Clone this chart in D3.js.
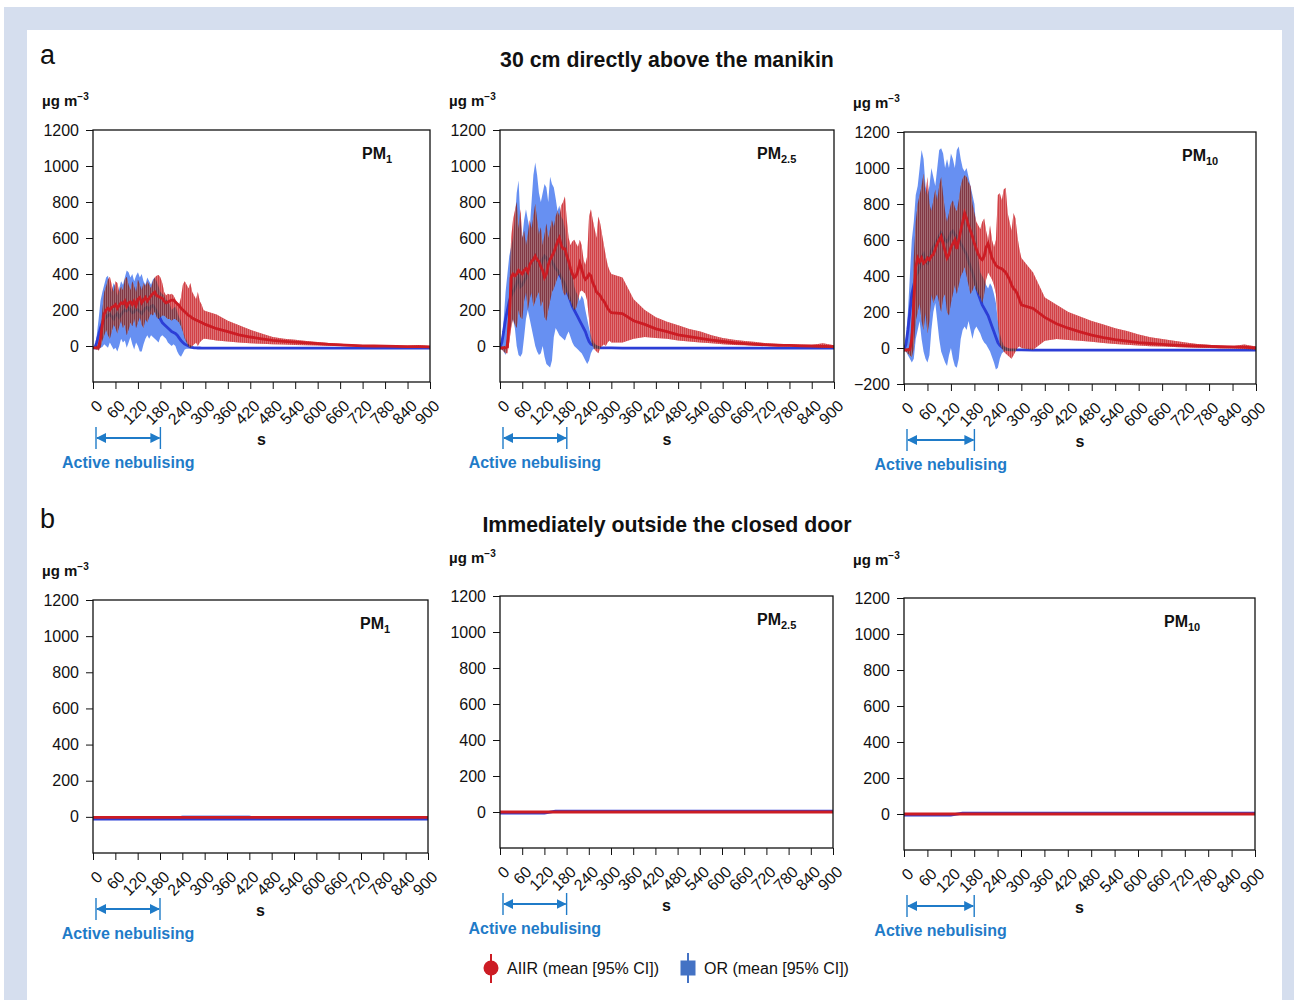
<!DOCTYPE html>
<html>
<head>
<meta charset="utf-8">
<script src="https://cdn.jsdelivr.net/npm/d3@7"></script>
<style>
  body { margin: 0; background: #fff; }
  svg text { font-family: "Liberation Sans", Arial, sans-serif; }
</style>
</head>
<body>
<svg id="chart" width="1298" height="1000"></svg>
<script>
// ---- data (µg m-3) ----
const X_TICKS = [0, 60, 120, 180, 240, 300, 360, 420, 480, 540, 600, 660, 720, 780, 840, 900];
const Y_TICKS = [0, 200, 400, 600, 800, 1000, 1200];
const Y_TICKS_NEG = [-200, 0, 200, 400, 600, 800, 1000, 1200];

// time points (s) for the panels of part a
const TIME_TOP = [0,5,10,15,20,25,30,35,40,45, 50,55,60,65,70,75,80,85,90,95,
  100,105,110,115,120,125,130,135,140,145, 150,155,160,165,170,175,180,185,190,195,
  200,205,210,215,220,225,230,235,240,245, 250,255,260,265,270,275,280,285,290,295, 300,
  330,360,390,420,450,480,510,540,570,600,630,660,690,720,750,780,810,840,870,900];

// PM1, 30 cm above the manikin
const PM1_AIIR_MEAN = [-10,-10,-10,-5,40,120,180,200,210,200, 215,220,230,210,225,240,235,250,220,240,
  245,230,250,225,260,270,240,255,270,250, 265,280,290,300,280,275,270,265,250,240,
  245,250,255,255,245,235,225,210,200,190, 180,170,165,155,150,145,140,135,130,125, 120,
  96,80,62,50,40,31,26,22,17,13,9,6,3,1,0,-1,-2,-3,-4,-5];
const PM1_AIIR_HI = [-5,-5,0,10,80,200,300,330,370,385, 340,300,360,350,300,330,310,370,385,340,
  310,360,330,300,370,340,310,350,330,360, 340,320,360,380,390,395,380,350,300,280,
  290,285,290,280,260,240,230,270,340,360, 340,320,350,300,280,260,300,250,230,200, 195,
  175,140,115,90,70,50,40,35,28,22,16,12,8,6,4,3,2,1,5,0];
const PM1_AIIR_LO = [-15,-15,-20,-25,-10,30,60,90,60,40, 80,120,100,70,110,140,100,120,60,90,
  130,110,150,100,130,160,120,100,150,130, 160,180,170,190,160,150,160,170,170,160,
  150,150,140,150,150,140,130,110,80,40, 20,0,-10,0,10,20,0,20,30,40, 40,
  30,25,20,15,12,10,8,6,4,3,2,0,-2,-3,-4,-5,-6,-7,-8,-10];
const PM1_OR_MEAN = [-10,-8,20,60,100,130,150,160,170,175, 165,150,170,180,160,175,190,200,195,210,
  200,185,190,205,200,190,180,195,210,215, 200,220,225,210,190,170,150,130,120,110,
  100,90,80,75,70,60,45,30,20,10, 5,0,-5,-8,-10,-10,-11,-11,-12,-12, -12,
  -12,-12,-12,-12,-12,-12,-12,-12,-12,-12,-12,-12,-12,-12,-12,-12,-12,-12,-12,-12];
const PM1_OR_HI = [-5,0,60,150,250,300,340,380,390,330, 300,350,330,280,320,360,340,380,420,410,
  380,400,360,390,410,380,400,360,340,380, 360,340,370,380,360,330,300,290,280,260,
  250,230,200,210,220,190,160,140,90,50, 30,10,0,-5,-7,-7,-8,-8,-8,-8, -8,
  -8,-8,-8,-8,-8,-8,-8,-8,-8,-8,-8,-8,-8,-8,-8,-8,-8,-8,-8,-8];
const PM1_OR_LO = [-15,-20,-20,-20,-10,-5,10,0,-10,20, 0,-20,-10,-30,0,40,20,30,-10,20,
  50,10,-20,20,0,-30,-30,10,40,60, 40,60,50,40,30,20,50,60,50,40,
  20,10,0,10,0,-30,-50,-60,-40,-20, -15,-15,-15,-15,-15,-15,-15,-16,-16,-16, -16,
  -16,-16,-16,-16,-16,-16,-16,-16,-16,-16,-16,-16,-16,-16,-16,-16,-16,-16,-16,-16];

// PM2.5, 30 cm above the manikin
const PM25_AIIR_MEAN = [-10,-10,-10,-10,-5,150,380,400,390,400, 420,410,400,420,430,410,450,470,480,500,
  480,470,440,420,380,400,450,480,500,520, 550,580,600,560,540,540,500,470,430,400,
  380,390,420,460,430,390,370,380,400,390, 350,330,300,290,280,260,250,230,210,195, 185,
  180,140,120,95,80,62,52,42,33,25,18,13,9,6,4,3,1,0,-2,-4];
const PM25_AIIR_HI = [-5,-5,0,0,50,300,600,700,750,800, 650,760,600,640,560,620,700,650,720,790,
  700,620,660,560,620,680,600,650,700,660, 720,750,720,780,800,830,700,600,560,580,
  590,570,550,590,560,480,450,500,720,760, 700,650,600,720,680,620,560,500,450,420, 400,
  380,260,200,160,135,115,95,80,60,45,35,28,22,15,12,10,8,6,15,4];
const PM25_AIIR_LO = [-20,-20,-30,-40,-40,20,100,150,120,100, 200,160,150,250,300,200,260,300,220,250,
  280,300,220,250,160,140,200,250,300,320, 350,380,400,360,300,280,300,260,250,220,
  200,210,250,300,310,300,290,250,150,30, 0,-20,-30,-40,-10,0,10,0,20,30, 20,
  20,40,50,45,40,30,25,20,15,10,6,4,2,0,-2,-3,-4,-5,-8,-10];
const PM25_OR_MEAN = [-10,20,80,150,200,250,280,300,320,350, 380,330,340,360,380,420,450,470,480,500,
  480,460,450,480,500,490,470,480,470,450, 430,420,400,380,360,340,300,280,250,220,
  200,180,160,140,120,100,80,50,25,10, 5,0,-5,-8,-10,-10,-10,-10,-10,-10, -10,
  -12,-12,-12,-12,-12,-12,-12,-12,-12,-12,-12,-12,-12,-12,-12,-12,-12,-12,-12,-12];
const PM25_OR_HI = [-5,50,150,300,400,500,550,600,700,850, 920,700,600,700,760,700,650,800,950,1020,
  950,850,800,850,900,880,800,940,900,880, 820,750,780,720,700,650,560,500,450,400,
  330,300,280,250,280,260,200,150,100,60, 30,15,5,0,-5,-6,-7,-8,-8,-8, -8,
  -8,-8,-8,-8,-8,-8,-8,-8,-8,-8,-8,-8,-8,-8,-8,-8,-8,-8,-8,-8];
const PM25_OR_LO = [-15,-20,-30,-50,0,80,120,150,100,0, -50,-60,-40,50,150,200,150,100,50,0,
  -30,-50,-40,0,-60,-100,-110,-120,-80,50, 100,80,60,50,40,30,60,80,50,20,
  0,-10,-20,-30,-40,-60,-80,-100,-80,-40, -20,-15,-15,-15,-15,-15,-15,-15,-15,-15, -15,
  -16,-16,-16,-16,-16,-16,-16,-16,-16,-16,-16,-16,-16,-16,-16,-16,-16,-16,-16,-16];

// PM10, 30 cm above the manikin
const PM10_AIIR_MEAN = [-10,-10,-10,-10,50,250,450,500,480,500, 470,480,500,490,510,520,550,580,600,620,
  580,540,500,520,560,580,600,550,600,650, 700,750,720,680,650,620,580,550,520,500,
  490,510,560,580,540,500,480,460,450,445, 440,430,420,400,380,350,330,320,300,270, 240,
  220,170,135,110,90,72,58,46,38,30,25,20,16,13,11,9,7,6,5,0];
const PM10_AIIR_HI = [-5,-5,0,0,150,500,700,800,850,900, 970,850,950,800,760,820,880,820,900,950,
  850,760,700,750,800,820,780,760,820,900, 940,960,950,920,900,800,750,700,680,660,
  700,720,650,600,680,600,560,600,850,860, 820,880,890,750,700,650,750,720,620,550, 500,
  420,280,240,200,175,150,130,110,95,75,60,50,40,30,22,18,12,10,20,8];
const PM10_AIIR_LO = [-20,-20,-30,-40,-50,0,150,200,250,150, 100,200,80,150,300,250,280,300,250,200,
  280,300,200,180,250,300,350,300,350,400, 420,450,400,350,300,320,350,320,300,280,
  250,300,380,420,400,380,350,300,150,20, 0,-20,-30,-40,-50,-60,-40,-20,0,10, 0,
  -10,40,50,45,40,35,28,22,18,14,10,8,5,3,1,0,-2,-3,-5,-8];
const PM10_OR_MEAN = [-10,20,100,200,300,350,400,420,450,500, 520,480,470,500,540,560,580,600,620,640,
  620,600,590,610,640,650,630,620,600,580, 560,540,520,480,450,420,380,340,300,270,
  240,220,200,180,150,120,90,60,30,15, 5,0,-5,-8,-10,-10,-10,-10,-10,-10, -10,
  -12,-12,-12,-12,-12,-12,-12,-12,-12,-12,-12,-12,-12,-12,-12,-12,-12,-12,-12,-12];
const PM10_OR_HI = [-5,60,200,400,600,700,850,900,1000,1100, 1050,900,850,900,1000,950,900,1000,1100,1110,
  1080,1000,1050,1000,1080,1050,1000,1100,1120,1050, 1000,980,1000,950,900,850,800,650,500,420,
  400,380,350,330,360,340,300,250,150,80, 40,15,5,0,-5,-6,-7,-8,-8,-8, -8,
  -8,-8,-8,-8,-8,-8,-8,-8,-8,-8,-8,-8,-8,-8,-8,-8,-8,-8,-8,-8];
const PM10_OR_LO = [-15,-20,-40,-60,-80,-60,50,100,150,50, -20,-60,-80,-40,100,200,250,150,50,-20,
  -50,-80,-100,-40,0,-60,-100,-110,-60,50, 100,120,100,150,100,50,100,120,100,80,
  50,30,20,0,-20,-50,-80,-120,-110,-60, -30,-20,-15,-15,-15,-15,-15,-15,-15,-15, -15,
  -16,-16,-16,-16,-16,-16,-16,-16,-16,-16,-16,-16,-16,-16,-16,-16,-16,-16,-16,-16];

// part b: outside the closed door (every 30 s)
const TIME_BOTTOM = [0,30,60,90,120,150,180,210,240,270,300,330,360,390,420,450,480,510,540,570,600,630,660,690,720,750,780,810,840,870,900];
const B_PM1_AIIR_MEAN = [-3,-3,-3,-3,-3,-3,-3,-3,-3,-3,-3,-3,-3,-3,-3,-3,-3,-3,-3,-3,-3,-3,-3,-3,-3,-3,-3,-3,-3,-3,-3];
const B_PM1_AIIR_LO   = [-6,-6,-6,-6,-6,-6,-6,-6,-6,-6,-6,-6,-6,-6,-6,-6,-6,-6,-6,-6,-6,-6,-6,-6,-6,-6,-6,-6,-6,-6,-6];
const B_PM1_AIIR_HI   = [0,0,0,0,0,0,0,0,0,0,0,0,0,0,0,0,0,0,0,0,0,0,0,0,0,0,0,0,0,0,0];
const B_PM1_OR_MEAN = [-12,-12,-12,-12,-12,-12,-12,-12,-12,-12,-12,-12,-12,-12,-12,-12,-12,-12,-12,-12,-12,-12,-12,-12,-12,-12,-12,-12,-12,-12,-12];
const B_PM1_OR_LO   = [-15,-15,-15,-15,-15,-15,-15,-15,-15,-15,-15,-15,-15,-15,-15,-15,-15,-15,-15,-15,-15,-15,-15,-15,-15,-15,-15,-15,-15,-15,-15];
const B_PM1_OR_HI   = [-9,-9,-9,-9,-9,-9,-9,-9,8,8,8,8,8,8,8,-9,-9,-9,-9,-9,-9,-9,-9,-9,-9,-9,-9,-9,-9,-9,-9];
const B_PM25_AIIR_MEAN = [0,0,0,0,0,0,0,0,0,0,0,0,0,0,0,0,0,0,0,0,0,0,0,0,0,0,0,0,0,0,0];
const B_PM25_AIIR_LO   = [-3,-3,-3,-3,-3,-3,-3,-3,-3,-3,-3,-3,-3,-3,-3,-3,-3,-3,-3,-3,-3,-3,-3,-3,-3,-3,-3,-3,-3,-3,-3];
const B_PM25_AIIR_HI   = [3,3,3,3,3,3,3,3,3,3,3,3,3,3,3,3,3,3,3,3,3,3,3,3,3,3,3,3,3,3,3];
const B_PM25_OR_MEAN = [-6,-6,-6,-6,-6,5,5,5,5,5,5,5,5,5,5,5,5,5,5,5,5,5,5,5,5,5,5,5,5,5,5];
const B_PM25_OR_LO   = [-9,-9,-9,-9,-9,2,2,2,2,2,2,2,2,2,2,2,2,2,2,2,2,2,2,2,2,2,2,2,2,2,2];
const B_PM25_OR_HI   = [-3,-3,-3,-3,-3,8,8,8,8,8,8,8,8,8,8,8,8,8,8,8,8,8,8,8,8,8,8,8,8,8,8];
const B_PM10_AIIR_MEAN = [0,0,0,0,0,0,0,0,0,0,0,0,0,0,0,0,0,0,0,0,0,0,0,0,0,0,0,0,0,0,0];
const B_PM10_AIIR_LO   = [-3,-3,-3,-3,-3,-3,-3,-3,-3,-3,-3,-3,-3,-3,-3,-3,-3,-3,-3,-3,-3,-3,-3,-3,-3,-3,-3,-3,-3,-3,-3];
const B_PM10_AIIR_HI   = [3,3,3,3,3,3,3,3,3,3,3,3,3,3,3,3,3,3,3,3,3,3,3,3,3,3,3,3,3,3,3];
const B_PM10_OR_MEAN = [-6,-6,-6,-6,-6,5,5,5,5,5,5,5,5,5,5,5,5,5,5,5,5,5,5,5,5,5,5,5,5,5,5];
const B_PM10_OR_LO   = [-9,-9,-9,-9,-9,2,2,2,2,2,2,2,2,2,2,2,2,2,2,2,2,2,2,2,2,2,2,2,2,2,2];
const B_PM10_OR_HI   = [-3,-3,-3,-3,-3,8,8,8,8,8,8,8,8,8,8,8,8,8,8,8,8,8,8,8,8,8,8,8,8,8,8];

// ---- drawing ----
const RED = "#cc1c24", RED_BAND = "#cc3034";
const BLUE = "#2c3ed6", BLUE_BAND = "#4c7cf0";
const NEB = "#1f7bc8";

const svg = d3.select("#chart");
svg.append("rect").attr("x", 4).attr("y", 7).attr("width", 1290).attr("height", 993).attr("fill", "#d5deee");
svg.append("rect").attr("x", 27).attr("y", 30).attr("width", 1255).attr("height", 970).attr("fill", "#fff");

const defs = svg.append("defs");
["start", "end"].forEach(k => {
  defs.append("marker")
    .attr("id", "arr-" + k)
    .attr("viewBox", "0 0 10 10")
    .attr("refX", 9).attr("refY", 5)
    .attr("markerWidth", 5).attr("markerHeight", 5)
    .attr("orient", k === "end" ? "auto" : "auto-start-reverse")
    .append("path").attr("d", "M0,0 L10,5 L0,10 z").attr("fill", NEB);
});
// thin light gaps between the individual error bars
const stripes = defs.append("pattern").attr("id", "stripes")
  .attr("patternUnits", "userSpaceOnUse").attr("width", 2).attr("height", 4);
stripes.append("rect").attr("x", 1.2).attr("y", 0).attr("width", 0.8).attr("height", 4)
  .attr("fill", "#fff").attr("fill-opacity", 0.32);

function series(time, mean, lo, hi) {
  return time.map((t, i) => ({ t, m: mean[i], lo: lo[i], hi: hi[i] }));
}

const panels = [
  { left: 93, right: 430, top: 130, bottom: 382, unitDy: 29, pmX: 362, sub: "1", yTicks: Y_TICKS,
    aiir: series(TIME_TOP, PM1_AIIR_MEAN, PM1_AIIR_LO, PM1_AIIR_HI), or: series(TIME_TOP, PM1_OR_MEAN, PM1_OR_LO, PM1_OR_HI) },
  { left: 500, right: 834, top: 130, bottom: 382, unitDy: 29, pmX: 757, sub: "2.5", yTicks: Y_TICKS,
    aiir: series(TIME_TOP, PM25_AIIR_MEAN, PM25_AIIR_LO, PM25_AIIR_HI), or: series(TIME_TOP, PM25_OR_MEAN, PM25_OR_LO, PM25_OR_HI) },
  { left: 904, right: 1256, top: 132, bottom: 384, unitDy: 29, pmX: 1182, sub: "10", yTicks: Y_TICKS_NEG,
    aiir: series(TIME_TOP, PM10_AIIR_MEAN, PM10_AIIR_LO, PM10_AIIR_HI), or: series(TIME_TOP, PM10_OR_MEAN, PM10_OR_LO, PM10_OR_HI) },
  { left: 93, right: 428, top: 600, bottom: 853, unitDy: 29, pmX: 360, sub: "1", yTicks: Y_TICKS,
    aiir: series(TIME_BOTTOM, B_PM1_AIIR_MEAN, B_PM1_AIIR_LO, B_PM1_AIIR_HI), or: series(TIME_BOTTOM, B_PM1_OR_MEAN, B_PM1_OR_LO, B_PM1_OR_HI) },
  { left: 500, right: 833, top: 596, bottom: 848, unitDy: 38, pmX: 757, sub: "2.5", yTicks: Y_TICKS,
    aiir: series(TIME_BOTTOM, B_PM25_AIIR_MEAN, B_PM25_AIIR_LO, B_PM25_AIIR_HI), or: series(TIME_BOTTOM, B_PM25_OR_MEAN, B_PM25_OR_LO, B_PM25_OR_HI) },
  { left: 904, right: 1255, top: 598, bottom: 850, unitDy: 38, pmX: 1164, sub: "10", yTicks: Y_TICKS,
    aiir: series(TIME_BOTTOM, B_PM10_AIIR_MEAN, B_PM10_AIIR_LO, B_PM10_AIIR_HI), or: series(TIME_BOTTOM, B_PM10_OR_MEAN, B_PM10_OR_LO, B_PM10_OR_HI) }
];

panels.forEach((p, idx) => drawPanel(p, idx));

function drawPanel(p, idx) {
  const x = d3.scaleLinear().domain([0, 900]).range([p.left, p.right]);
  const y = d3.scaleLinear().domain([-200, 1200]).range([p.bottom, p.top]);
  const g = svg.append("g");

  defs.append("clipPath").attr("id", "clip" + idx)
    .append("rect").attr("x", p.left).attr("y", p.top)
    .attr("width", p.right - p.left).attr("height", p.bottom - p.top);
  const plot = g.append("g").attr("clip-path", `url(#clip${idx})`).style("isolation", "isolate");

  const band = d3.area().x(d => x(d.t)).y0(d => y(d.lo)).y1(d => y(d.hi));
  const line = d3.line().x(d => x(d.t)).y(d => y(d.m));

  // OR first, AIIR on top (darken + tint gives the maroon overlap)
  plot.append("path").datum(p.or).attr("d", band)
    .attr("fill", BLUE_BAND).attr("fill-opacity", 0.85);
  plot.append("path").datum(p.or).attr("d", line)
    .attr("fill", "none").attr("stroke", BLUE).attr("stroke-width", 2.8);
  plot.append("path").datum(p.aiir).attr("d", band)
    .attr("fill", RED_BAND).attr("fill-opacity", 0.88)
    .style("mix-blend-mode", "darken");
  plot.append("path").datum(p.aiir).attr("d", band)
    .attr("fill", RED_BAND).attr("fill-opacity", 0.3);
  plot.append("path").datum(p.aiir).attr("d", band)
    .attr("fill", "url(#stripes)");
  plot.append("path").datum(p.aiir).attr("d", line)
    .attr("fill", "none").attr("stroke", RED).attr("stroke-width", 2.8);

  // axes
  const xAxis = g.append("g")
    .attr("transform", `translate(0,${p.bottom})`)
    .call(d3.axisBottom(x).tickValues(X_TICKS).tickSize(7).tickSizeOuter(0));
  xAxis.select(".domain").remove();
  xAxis.selectAll("text")
    .attr("font-size", 16).attr("fill", "#111")
    .attr("x", 0).attr("y", 0).attr("dy", "0.35em")
    .attr("text-anchor", "end")
    .attr("transform", "translate(6,21) rotate(-45)");

  const yAxis = g.append("g")
    .attr("transform", `translate(${p.left},0)`)
    .call(d3.axisLeft(y).tickValues(p.yTicks).tickSize(7).tickPadding(7).tickSizeOuter(0).tickFormat(d3.format("d")));
  yAxis.select(".domain").remove();
  yAxis.selectAll("text").attr("font-size", 16).attr("fill", "#111");
  g.selectAll(".tick line").attr("stroke", "#111");

  g.append("rect")
    .attr("x", p.left).attr("y", p.top)
    .attr("width", p.right - p.left).attr("height", p.bottom - p.top)
    .attr("fill", "none").attr("stroke", "#111").attr("stroke-width", 1.3);

  // unit label
  const u = g.append("text")
    .attr("x", p.left - 51).attr("y", p.top - p.unitDy + 5)
    .attr("font-size", 15).attr("font-weight", "bold").attr("fill", "#111");
  u.append("tspan").text("µg m");
  u.append("tspan").attr("font-size", 10).attr("dy", -6).text("−3");

  // PM label
  const pm = g.append("text")
    .attr("x", p.pmX).attr("y", p.top + 29)
    .attr("font-size", 16).attr("font-weight", "bold").attr("fill", "#111");
  pm.append("tspan").text("PM");
  pm.append("tspan").attr("font-size", 11).attr("dy", 4).text(p.sub);

  // x label
  g.append("text")
    .attr("x", (p.left + p.right) / 2).attr("y", p.bottom + 63)
    .attr("text-anchor", "middle")
    .attr("font-size", 16).attr("font-weight", "bold").attr("fill", "#111")
    .text("s");

  // active nebulising arrow (0-180 s)
  const ay = p.bottom + 56;
  const ax0 = x(0) + 3, ax1 = x(180);
  g.append("line").attr("x1", ax0 + 1).attr("x2", ax1 - 1).attr("y1", ay).attr("y2", ay)
    .attr("stroke", NEB).attr("stroke-width", 2)
    .attr("marker-start", "url(#arr-start)").attr("marker-end", "url(#arr-end)");
  [ax0, ax1].forEach(xx => {
    g.append("line").attr("x1", xx).attr("x2", xx).attr("y1", ay - 11).attr("y2", ay + 11)
      .attr("stroke", NEB).attr("stroke-width", 1.4);
  });
  g.append("text")
    .attr("x", (ax0 + ax1) / 2).attr("y", p.bottom + 86)
    .attr("text-anchor", "middle")
    .attr("font-size", 16).attr("font-weight", "bold").attr("fill", NEB)
    .text("Active nebulising");
}

// panel letters and titles
svg.append("text").attr("x", 40).attr("y", 64).attr("font-size", 27).attr("fill", "#111").text("a");
svg.append("text").attr("x", 40).attr("y", 528).attr("font-size", 27).attr("fill", "#111").text("b");
svg.append("text").attr("x", 667).attr("y", 67).attr("text-anchor", "middle")
  .attr("font-size", 21.3).attr("font-weight", "bold").attr("fill", "#111")
  .text("30 cm directly above the manikin");
svg.append("text").attr("x", 667).attr("y", 532).attr("text-anchor", "middle")
  .attr("font-size", 21.3).attr("font-weight", "bold").attr("fill", "#111")
  .text("Immediately outside the closed door");

// legend
const lg = svg.append("g");
lg.append("line").attr("x1", 491).attr("x2", 491).attr("y1", 954).attr("y2", 983).attr("stroke", RED).attr("stroke-width", 2);
lg.append("circle").attr("cx", 491).attr("cy", 968).attr("r", 7.5).attr("fill", RED);
lg.append("text").attr("x", 507).attr("y", 974).attr("font-size", 16).attr("fill", "#111").text("AIIR (mean [95% CI])");
lg.append("line").attr("x1", 688).attr("x2", 688).attr("y1", 953).attr("y2", 983).attr("stroke", "#4472c4").attr("stroke-width", 2);
lg.append("rect").attr("x", 680.5).attr("y", 960.5).attr("width", 15).attr("height", 15).attr("fill", "#4472c4");
lg.append("text").attr("x", 704).attr("y", 974).attr("font-size", 16).attr("fill", "#111").text("OR (mean [95% CI])");
</script>
</body>
</html>
